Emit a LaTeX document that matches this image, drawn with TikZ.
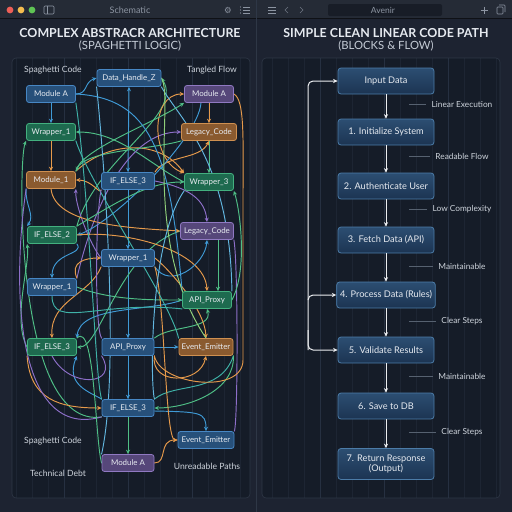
\documentclass[tikz,border=0pt]{standalone}
\usepackage{fontspec}
\setmainfont{Lato}
\newfontfamily\symfont{DejaVu Sans}
\usetikzlibrary{arrows.meta}
\pgfdeclarelayer{bg}
\pgfdeclarelayer{edges}
\pgfsetlayers{bg,edges,main}
\definecolor{titlebar}{HTML}{252B36}
\definecolor{bodybg}{HTML}{1D2331}
\definecolor{panelbg}{HTML}{151C28}
\definecolor{gridminor}{HTML}{1D2533}
\definecolor{gridmajor}{HTML}{263041}
\definecolor{panelline}{HTML}{2E3746}
\definecolor{txt}{HTML}{E6EAF0}
\definecolor{subtxt}{HTML}{C5CCD6}
\definecolor{lbl}{HTML}{CDD3DB}
\definecolor{iconc}{HTML}{8D95A2}
\definecolor{tlred}{HTML}{EE5F57}
\definecolor{tlyel}{HTML}{F5BD4F}
\definecolor{tlgrn}{HTML}{5FC454}
\definecolor{searchbg}{HTML}{181D27}
\definecolor{nbfill}{HTML}{27507A}
\definecolor{nbdraw}{HTML}{4787C4}
\definecolor{ngfill}{HTML}{1E6A4F}
\definecolor{ngdraw}{HTML}{43B07F}
\definecolor{nofill}{HTML}{8A5A2F}
\definecolor{nodraw}{HTML}{CF9050}
\definecolor{npfill}{HTML}{56477A}
\definecolor{npdraw}{HTML}{9079C2}
\definecolor{cb}{HTML}{3F9AD6}
\definecolor{cl}{HTML}{62B6E0}
\definecolor{cg}{HTML}{4FBF86}
\definecolor{cy}{HTML}{8FCF7A}
\definecolor{co}{HTML}{E69A4B}
\definecolor{cp}{HTML}{8D6FC9}
\definecolor{ct}{HTML}{3FB2A8}
\definecolor{rtop}{HTML}{2C4E72}
\definecolor{rbot}{HTML}{1C3452}
\definecolor{rdraw}{HTML}{4C7CA8}
\definecolor{tick}{HTML}{566170}
\definecolor{arrw}{HTML}{EBEDF0}
\begin{document}
\begin{tikzpicture}[x=1pt,y=-1pt,
  lnode/.style={draw, rounded corners=2.5pt, line width=0.8pt, minimum height=17pt, minimum width=49pt, inner xsep=2.5pt, inner ysep=1pt, text=txt, font=\fontsize{7.9}{9}\selectfont},
  nb/.style={lnode, fill=nbfill, draw=nbdraw},
  ng/.style={lnode, fill=ngfill, draw=ngdraw},
  no/.style={lnode, fill=nofill, draw=nodraw},
  np/.style={lnode, fill=npfill, draw=npdraw},
  rnode/.style={draw=rdraw, line width=0.8pt, rounded corners=3pt, top color=rtop, bottom color=rbot, minimum width=96pt, minimum height=26pt, text=txt, align=center, font=\fontsize{9.2}{10.5}\selectfont},
  lab/.style={text=lbl, font=\fontsize{8.6}{10}\selectfont},
  rlab/.style={text=lbl, font=\fontsize{8.3}{10}\selectfont},
  sp/.style={line width=0.95pt, line cap=round},
  a/.style={-{Stealth[length=4.4pt,width=4pt]}},
  ra/.style={-{Stealth[length=4.5pt,width=4.2pt]}, line width=1pt, draw=arrw},
  tl/.style={draw=tick, line width=0.6pt}
]
\useasboundingbox (0,0) rectangle (512,512);
\begin{pgfonlayer}{bg}
\fill[bodybg] (0,0) rectangle (512,512);
\fill[titlebar] (0,0) rectangle (512,18);
\draw[black!60!titlebar, line width=0.6pt] (0,18) -- (512,18);
% panels
\fill[panelbg, rounded corners=4pt] (12,58) rectangle (250,498);
\fill[panelbg, rounded corners=4pt] (262,58) rectangle (500,498);
\draw[gridminor, line width=0.4pt, step=16] (12,58) grid (250,498);
\draw[gridminor, line width=0.4pt, step=16] (262,58) grid (500,498);
\draw[gridmajor, line width=0.5pt, step=64] (12,58) grid (250,498);
\draw[gridmajor, line width=0.5pt, step=64] (262,58) grid (500,498);
\draw[panelline, line width=0.6pt, rounded corners=4pt] (12,58) rectangle (250,498);
\draw[panelline, line width=0.6pt, rounded corners=4pt] (262,58) rectangle (500,498);
\draw[panelline, line width=1pt] (256,0) -- (256,512);
\end{pgfonlayer}
% title bar
\fill[tlred] (10,10) circle (3.4);
\fill[tlyel] (21,10) circle (3.4);
\fill[tlgrn] (32,10) circle (3.4);
\draw[iconc, line width=0.6pt, rounded corners=1pt] (44,6) rectangle (54,14);
\draw[iconc, line width=0.6pt] (47.5,6) -- (47.5,14);
\node[text=iconc, font=\fontsize{9}{10}\selectfont] (tsch) at (130,10) {Schematic};
\node[text=iconc, font=\symfont\fontsize{8.5}{9}\selectfont] (tgear) at (228,10) {⚙};
\foreach \yy in {7,10,13} {\draw[iconc, line width=0.6pt] (243,\yy) -- (250,\yy); \fill[iconc] (240.5,\yy) circle (0.6);}
\foreach \yy in {7,10,13} {\draw[iconc, line width=0.6pt] (268,\yy) -- (276,\yy);}
\draw[iconc!70!titlebar, line width=0.6pt] (288,7) -- (285,10) -- (288,13);
\draw[iconc!70!titlebar, line width=0.6pt] (300,7) -- (303,10) -- (300,13);
\fill[searchbg, rounded corners=2pt] (328,4) rectangle (442,16);
\node[text=iconc, font=\fontsize{8.5}{9}\selectfont] (tav) at (383,10) {Avenir};
\draw[iconc, line width=0.6pt] (480.5,10) -- (487.5,10) (484,6.5) -- (484,13.5);
\draw[iconc, line width=0.6pt, rounded corners=0.8pt] (497,7) rectangle (503,14);
\draw[iconc, line width=0.6pt, rounded corners=0.8pt] (499,5) -- (505,5) -- (505,12);
% titles
\node[text=txt, font=\bfseries\fontsize{12.4}{14}\selectfont] (t1) at (130,33) {COMPLEX ABSTRACR ARCHITECTURE};
\node[text=subtxt, font=\fontsize{11.3}{13}\selectfont] (s1) at (130,46) {(SPAGHETTI LOGIC)};
\node[text=txt, font=\bfseries\fontsize{12.4}{14}\selectfont] (t2) at (386,33) {SIMPLE CLEAN LINEAR CODE PATH};
\node[text=subtxt, font=\fontsize{11.3}{13}\selectfont] (s2) at (386,46) {(BLOCKS \& FLOW)};

% ---------- left nodes
\node[nb, minimum width=64pt] (dh) at (129,78) {Data\_Handle\_Z};
\node[nb] (ma1) at (51,94) {Module A};
\node[np] (ma2) at (209,94) {Module A};
\node[ng] (w1) at (51,132) {Wrapper\_1};
\node[no, minimum width=55pt] (lc1) at (209,132) {Legacy\_Code};
\node[no] (m1) at (51,180) {Module\_1};
\node[nb, minimum width=53pt] (ie3a) at (128,181) {IF\_ELSE\_3};
\node[ng] (w3) at (209,182) {Wrapper\_3};
\node[ng] (ie2) at (52,235) {IF\_ELSE\_2};
\node[np, minimum width=53pt] (lc2) at (207,231) {Legacy\_Code};
\node[nb, minimum width=53pt] (w1b) at (128,258) {Wrapper\_1};
\node[nb] (w1c) at (52,287) {Wrapper\_1};
\node[ng] (ap1) at (207,300) {API\_Proxy};
\node[ng] (ie3b) at (52,347) {IF\_ELSE\_3};
\node[nb, minimum width=52pt] (ap2) at (128,347) {API\_Proxy};
\node[no, minimum width=54pt] (ee1) at (206,347) {Event\_Emitter};
\node[nb, minimum width=52pt] (ie3c) at (128,408) {IF\_ELSE\_3};
\node[nb, minimum width=56pt] (ee2) at (206,440) {Event\_Emitter};
\node[np, minimum width=52pt] (ma3) at (128,463) {Module A};
\node[lab] (l1) at (53,70) {Spaghetti Code};
\node[lab] (l2) at (212,70) {Tangled Flow};
\node[lab] (l3) at (53,441) {Spaghetti Code};
\node[lab] (l4) at (58,473) {Technical Debt};
\node[lab] (l5) at (207,466) {Unreadable Paths};

\begin{pgfonlayer}{edges}
% primary
\draw[sp,cb,a] (ma1.south) -- (w1.north);
\draw[sp,co,a] (w1.south) -- (m1.north);
\draw[sp,co,a] (ma2.south) -- (lc1.north);
\draw[sp,cg,a] (lc1.south) -- (w3.north);
\draw[sp,cb,{Stealth[length=4.4pt,width=4pt]}-{Stealth[length=4.4pt,width=4pt]}] (dh.south) -- (ie3a.north);
\draw[sp,cb,a] (ie3a.south) -- (w1b.north);
\draw[sp,cb,a] (w1b.south) -- (ap2.north);
\draw[sp,cb,a] (ap2.south) -- (ie3c.north);
\draw[sp,cg,a] (ie3c.south) -- (ma3.north);
\draw[sp,cg,a] ([xshift=11pt]lc2.south) -- ([xshift=11pt]ap1.north);
\draw[sp,cb,a] (ap2.east) -- (ee1.west);
\draw[sp,cb,a] ([yshift=-3pt]ie3c.east) .. controls (200,412) and (206,412) .. (ee2.north);
\draw[sp,co,a] (ma3.east) .. controls (168,463) and (158,440) .. (ee2.west);
% secondary
\draw[sp,cb,a] (ma1.east) .. controls (88,94) and (84,82) .. (dh.west);
\draw[sp,cg,a] (ie2.north east) .. controls (95,160) and (185,115) .. (dh.east);
\draw[sp,co,a] (m1.north east) .. controls (110,140) and (160,140) .. (w3.north west);
\draw[sp,cg,a] (w3.west) .. controls (150,165) and (120,132) .. (w1.east);
\draw[sp,cp,a] (w1c.north east) .. controls (95,200) and (130,132) .. (lc1.west);
\draw[sp,co,{Stealth[length=4.4pt,width=4pt]}-{Stealth[length=4.4pt,width=4pt]}] (w3.north west) .. controls (150,160) and (150,94) .. (ma2.west);
\draw[sp,co,a] (ie3a.north east) .. controls (165,155) and (200,160) .. (lc1.south);
\draw[sp,cb,a] ([xshift=-8pt]ma2.south) .. controls (198,140) and (110,225) .. (ie2.east);
\draw[sp,cb,a] (m1.south west) .. controls (25,205) and (35,215) .. (ie2.north west);
\draw[sp,cp,a] (w1b.west) .. controls (90,245) and (75,205) .. (m1.south east);
\draw[sp,co,a] (ie3a.south west) .. controls (100,195) and (92,180) .. (m1.east);
\draw[sp,cg,a] (lc1.south west) .. controls (150,150) and (85,150) .. (m1.north east);
\draw[sp,cg,a] (ie3c.south west) .. controls (15,430) and (18,160) .. (w1.south west);
\draw[sp,co,a] (ie3b.south west) .. controls (30,400) and (60,408) .. (ie3c.west);
\draw[sp,cb,a] (ie2.south east) .. controls (85,255) and (52,252) .. (w1c.north);
\draw[sp,co,a] (w1c.north east) .. controls (70,262) and (85,258) .. (w1b.west);
\draw[sp,cg,a] (ie3b.west) .. controls (12,320) and (30,265) .. (ie2.south west);
\draw[sp,co,a] (w1b.south west) .. controls (90,295) and (50,300) .. (ie3b.north);
\draw[sp,cb,a] (ap1.west) .. controls (150,312) and (80,305) .. (ie3b.north east);
\draw[sp,cg,a] (lc2.west) .. controls (120,250) and (100,348) .. (ie3b.east);
\draw[sp,cb,a] (ie3c.north west) .. controls (90,392) and (65,385) .. (ie3b.south east);
\draw[sp,cp] (ie3b.south) .. controls (70,390) and (120,385) .. (ap2.south west);
\draw[sp,co,a] (ap2.south east) .. controls (150,385) and (200,385) .. (ee1.south);
\draw[sp,ct] (ee1.south east) .. controls (220,395) and (175,382) .. (ie3c.north east);
\draw[sp,cg,a] (ee1.south east) .. controls (235,390) and (190,408) .. (ie3c.east);
\draw[sp,cp] (lc2.south east) .. controls (238,262) and (238,420) .. (ee2.north east);
\draw[sp,cp] (m1.south west) .. controls (10,300) and (20,440) .. (ie3c.south west);
\draw[sp,co,a] (m1.south) .. controls (55,225) and (130,228) .. (lc2.west);
\draw[sp,co,a] (ie2.east) .. controls (125,230) and (205,250) .. (ap1.north);
\draw[sp,cg,a] (ap1.east) .. controls (248,270) and (240,210) .. (w3.south east);
\draw[sp,cb,a] (w1b.south east) .. controls (170,290) and (205,265) .. (lc2.south);
\draw[sp,cp,a] (ie3a.east) .. controls (190,188) and (205,200) .. (lc2.north);
\draw[sp,cg,a] (w1c.east) .. controls (110,300) and (150,300) .. (ap1.west);
\draw[sp,cg,a] (ap2.north east) .. controls (170,325) and (213,330) .. (ap1.south);
\draw[sp,co,a] (w1b.east) .. controls (170,270) and (205,310) .. (ee1.north);
\draw[sp,co,a] (w1b.south east) .. controls (165,300) and (165,440) .. (ee2.west);
\draw[sp,cl] (dh.south west) .. controls (108,200) and (118,380) .. (ma3.north west);
\draw[sp,ct] (ma1.south east) .. controls (90,200) and (95,380) .. (ie3c.north west);
\draw[sp,co] (ma2.east) .. controls (245,100) and (243,140) .. (243,200) -- (243,360) .. controls (243,395) and (160,385) .. (ap2.south east);
\draw[sp,cl] (dh.south east) .. controls (180,120) and (230,160) .. (ap1.north east);
\draw[sp,ct] (w1.south east) .. controls (90,185) and (170,300) .. (ee1.north west);
\draw[sp,cp] (ie3a.south west) .. controls (95,220) and (95,330) .. (ap2.north west);
\draw[sp,cg,a] (ie2.north east) .. controls (120,200) and (150,182) .. (w3.west);
\draw[sp,cg,a] (m1.north east) .. controls (80,150) and (150,125) .. (ma2.south west);
\draw[sp,cb] (ma1.east) .. controls (150,98) and (170,150) .. (ap1.north west);
\draw[sp,cy] (dh.east) .. controls (175,100) and (140,240) .. (ee1.north);
\draw[sp,ct] (w1c.south) .. controls (52,330) and (100,300) .. (ap1.south west);
\draw[sp,cg] (ie3b.north east) .. controls (95,320) and (95,440) .. (ma3.west);
\draw[sp,cl] (w3.south west) .. controls (150,240) and (150,380) .. (ie3c.north east);
\end{pgfonlayer}

% ---------- right nodes
\node[rnode] (inp) at (386,81) {Input Data};
\node[rnode] (r1) at (386,132) {1. Initialize System};
\node[rnode] (r2) at (386,186) {2. Authenticate User};
\node[rnode] (r3) at (386,240) {3. Fetch Data (API)};
\node[rnode] (r4) at (386,295) {4. Process Data (Rules)};
\node[rnode] (r5) at (386,350) {5. Validate Results};
\node[rnode] (r6) at (386,406) {6. Save to DB};
\node[rnode, minimum height=31pt] (r7) at (386,464) {7. Return Response\\(Output)};
\draw[ra] (inp) -- (r1);
\draw[ra] (r1) -- (r2);
\draw[ra] (r2) -- (r3);
\draw[ra] (r3) -- (r4);
\draw[ra] (r4) -- (r5);
\draw[ra] (r5) -- (r6);
\draw[ra] (r6) -- (r7);
\coordinate (lbot) at (308,350);
\coordinate (lmid) at (308,300);
\coordinate (lmid2) at (308,330);
\draw[ra, rounded corners=5pt] (lbot) |- (inp.west);
\draw[ra, rounded corners=5pt] (lmid) |- (r4.west);
\draw[ra, rounded corners=5pt] (lmid2) |- (r5.west);
% side labels
\node[rlab] (q1) at (462,104) {Linear Execution};
\node[rlab] (q2) at (462,156) {Readable Flow};
\node[rlab] (q3) at (462,209) {Low Complexity};
\node[rlab] (q4) at (462,266) {Maintainable};
\node[rlab] (q5) at (462,321) {Clear Steps};
\node[rlab] (q6) at (462,376) {Maintainable};
\node[rlab] (q7) at (462,432) {Clear Steps};
\foreach \q in {q1,q2,q3,q4,q5,q6,q7} {\draw[tl] (409,0 |- \q.west) -- ([xshift=-2pt]\q.west);}
\end{tikzpicture}
\end{document}
